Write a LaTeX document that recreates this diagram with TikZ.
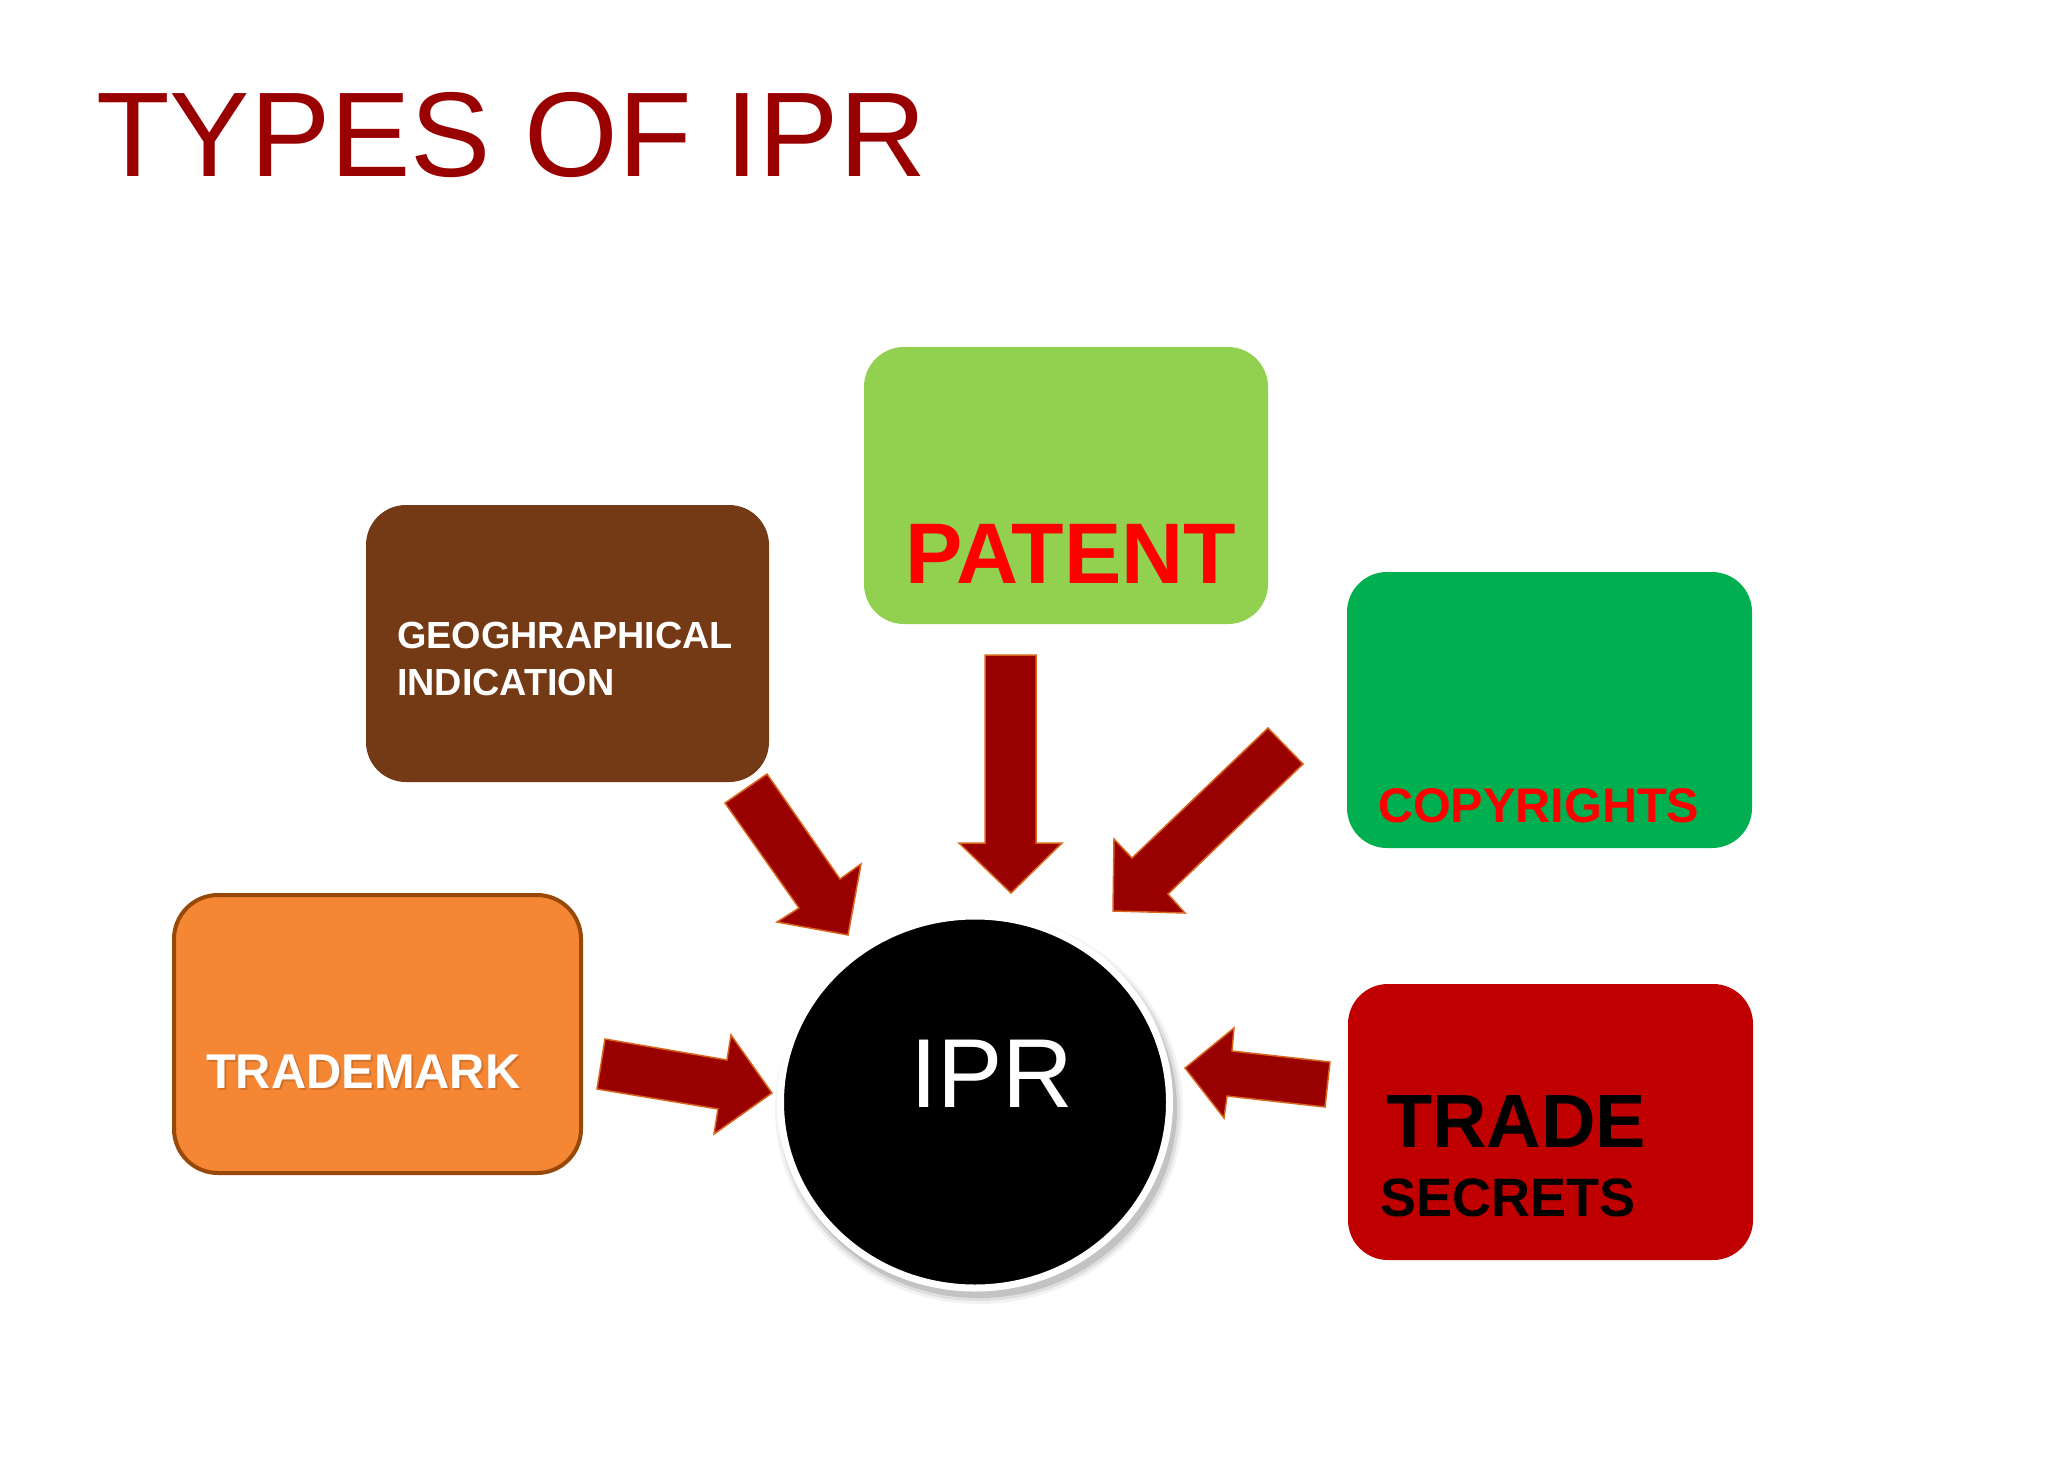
\documentclass[tikz,border=0pt]{standalone}
\usepackage{fontspec}
\setmainfont{Liberation Sans}
\usetikzlibrary{shapes.geometric}
\definecolor{titlered}{HTML}{990000}
\definecolor{arrowred}{HTML}{990000}
\definecolor{arrowedge}{HTML}{D9641C}
\definecolor{geobrown}{HTML}{743A15}
\definecolor{patentgreen}{HTML}{92D050}
\definecolor{copygreen}{HTML}{00B050}
\definecolor{tmorange}{HTML}{F58634}
\definecolor{tmborder}{HTML}{984807}
\definecolor{secretred}{HTML}{C00000}
\definecolor{textred}{HTML}{FF0000}
\begin{document}
\begin{tikzpicture}[x=1pt,y=-1pt,
  ipbox/.style={rounded corners=40pt, inner sep=0pt, outer sep=0pt, anchor=north west},
  lbl/.style={anchor=base west, inner sep=0pt, outer sep=0pt},
  blockarrow/.style={fill=arrowred, draw=arrowedge, line width=1.5pt, line join=miter}]
\useasboundingbox (0,0) rectangle (2048,1462);
\fill[white] (0,0) rectangle (2048,1462);

% title
\node[lbl, text=titlered, font=\fontsize{120.5}{120.5}\selectfont] (title) at (96,176) {TYPES OF IPR};

% boxes
\node[ipbox, fill=geobrown, minimum width=403pt, minimum height=277pt] (geo) at (366,505) {};
\node[ipbox, fill=patentgreen, minimum width=404pt, minimum height=277pt] (patent) at (864,347) {};
\node[ipbox, fill=copygreen, minimum width=405pt, minimum height=276pt] (copy) at (1347,572) {};
\node[ipbox, fill=tmorange, draw=tmborder, line width=4pt, rounded corners=44pt, minimum width=407pt, minimum height=278pt] (tm) at (174,895) {};
\node[ipbox, fill=secretred, minimum width=405pt, minimum height=276pt] (secret) at (1348,984) {};

% labels
\node[lbl, text=white, font=\bfseries\fontsize{37.8}{37.8}\selectfont] (geo1) at (397,648) {GEOGHRAPHICAL};
\node[lbl, text=white, font=\bfseries\fontsize{37.8}{37.8}\selectfont] (geo2) at (397,695) {INDICATION};
\node[lbl, text=textred, font=\bfseries\fontsize{86}{86}\selectfont] (patentlbl) at (905,583) {PATENT};
\node[lbl, text=textred, font=\bfseries\fontsize{48.6}{48.6}\selectfont] (copylbl) at (1378,822) {COPYRIGHTS};
\node[lbl, text=black, opacity=0.15, font=\bfseries\fontsize{48.8}{48.8}\selectfont] (tmshadow) at (208,1090) {TRADEMARK};
\node[lbl, text=white, font=\bfseries\fontsize{48.8}{48.8}\selectfont] (tmlbl) at (206,1088) {TRADEMARK};
\node[lbl, text=black, font=\bfseries\fontsize{75.5}{75.5}\selectfont] (sec1) at (1386,1147) {TRADE};
\node[lbl, text=black, font=\bfseries\fontsize{54}{54}\selectfont] (sec2) at (1380,1216) {SECRETS};

% central ellipse with soft shadow
\foreach \d/\o in {9/0.05,6/0.08,3/0.12} {
  \fill[black, opacity=\o] (979,1109) ellipse ({195+\d} and {186+\d});
}
\node[ellipse, fill=black, draw=white, line width=7pt, inner sep=0pt,
      minimum width=389pt, minimum height=372pt] (ipr) at (975,1102) {};
\node[lbl, text=white, font=\fontsize{98}{98}\selectfont] (iprlbl) at (910,1107) {IPR};

% block arrows
\draw[blockarrow] (725,803) -- (767,774) -- (840,879) -- (861,864) -- (848,935) -- (777,922) -- (799,908) -- cycle;
\draw[blockarrow] (985,655) -- (1036,655) -- (1036,843) -- (1062,843) -- (1011,893) -- (959,843) -- (985,843) -- cycle;
\draw[blockarrow] (1268,728) -- (1303,764) -- (1168,894) -- (1185,913) -- (1113,911) -- (1114,839) -- (1132,858) -- cycle;
\draw[blockarrow] (1330,1062) -- (1325,1107) -- (1227,1096) -- (1224,1118) -- (1185,1068) -- (1234,1028) -- (1232,1051) -- cycle;
\draw[blockarrow] (605,1039) -- (727,1060) -- (731,1035) -- (772,1093) -- (714,1134) -- (718,1109) -- (597,1089) -- cycle;
\end{tikzpicture}
\end{document}
